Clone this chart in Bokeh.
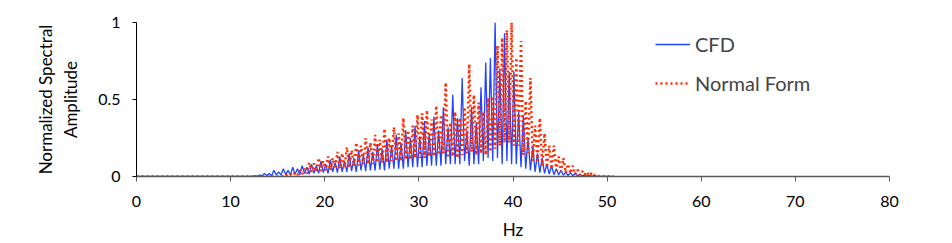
from bokeh.plotting import figure
from bokeh.models import FixedTicker, Legend, LegendItem, Range1d
from bokeh.embed import file_html
from bokeh.resources import INLINE
import numpy as np

# frequency sampling grid (Hz): four bins per Hz from 12.1 Hz
freq_start = 12.1
freq_step = 0.25
span_start = 0.0
span_end = 50.7

# CFD, per Hz from 12 to 49: values at .1, .35, .6, .85 Hz
cfd = [
    0, 0, 0.005, 0,
    0.01, 0.003, 0.02, 0.005,
    0.02, 0.005, 0.04, 0.01,
    0.03, 0.01, 0.05, 0.012,
    0.04, 0.01, 0.06, 0.015,
    0.05, 0.012, 0.07, 0.02,
    0.06, 0.015, 0.08, 0.02,
    0.07, 0.02, 0.10, 0.025,
    0.08, 0.02, 0.11, 0.03,
    0.09, 0.025, 0.13, 0.03,
    0.10, 0.03, 0.15, 0.035,
    0.12, 0.03, 0.17, 0.04,
    0.14, 0.035, 0.19, 0.04,
    0.16, 0.04, 0.21, 0.045,
    0.18, 0.04, 0.24, 0.05,
    0.20, 0.05, 0.27, 0.05,
    0.22, 0.05, 0.30, 0.06,
    0.25, 0.06, 0.33, 0.06,
    0.26, 0.06, 0.36, 0.07,
    0.28, 0.07, 0.39, 0.07,
    0.30, 0.07, 0.45, 0.08,
    0.32, 0.08, 0.53, 0.08,
    0.38, 0.08, 0.64, 0.10,
    0.30, 0.07, 0.45, 0.08,
    0.35, 0.08, 0.58, 0.10,
    0.74, 0.12, 0.77, 0.10,
    1.00, 0.12, 0.70, 0.08,
    0.93, 0.10, 0.68, 0.08,
    0.68, 0.08, 0.42, 0.06,
    0.40, 0.05, 0.25, 0.04,
    0.20, 0.03, 0.15, 0.025,
    0.12, 0.02, 0.08, 0.015,
    0.07, 0.012, 0.05, 0.01,
    0.04, 0.008, 0.03, 0.006,
    0.025, 0.005, 0.02, 0.004,
    0.015, 0.003, 0.01, 0.002,
    0.008, 0.002, 0.005, 0.001,
    0.003, 0.001, 0.002, 0,
]

# Normal Form, per Hz from 12 to 49: values at .1, .35, .6, .85 Hz
normal_form = [
    0, 0, 0, 0,
    0, 0, 0, 0,
    0, 0, 0, 0,
    0, 0.005, 0, 0.01,
    0.003, 0.015, 0.005, 0.025,
    0.01, 0.04, 0.015, 0.05,
    0.02, 0.09, 0.03, 0.085,
    0.03, 0.12, 0.035, 0.10,
    0.04, 0.13, 0.04, 0.12,
    0.05, 0.16, 0.05, 0.15,
    0.06, 0.19, 0.06, 0.17,
    0.07, 0.22, 0.07, 0.20,
    0.08, 0.25, 0.08, 0.22,
    0.08, 0.27, 0.09, 0.24,
    0.09, 0.31, 0.09, 0.25,
    0.10, 0.32, 0.10, 0.28,
    0.10, 0.38, 0.11, 0.30,
    0.11, 0.33, 0.12, 0.40,
    0.12, 0.41, 0.12, 0.43,
    0.13, 0.37, 0.13, 0.46,
    0.14, 0.40, 0.15, 0.61,
    0.12, 0.35, 0.13, 0.42,
    0.12, 0.38, 0.14, 0.45,
    0.15, 0.73, 0.16, 0.53,
    0.14, 0.48, 0.15, 0.42,
    0.14, 0.51, 0.16, 0.52,
    0.18, 0.85, 0.20, 0.90,
    0.22, 0.95, 0.22, 1.00,
    0.20, 0.77, 0.20, 0.88,
    0.14, 0.49, 0.15, 0.64,
    0.10, 0.33, 0.10, 0.38,
    0.07, 0.28, 0.06, 0.20,
    0.05, 0.20, 0.04, 0.13,
    0.03, 0.12, 0.025, 0.08,
    0.02, 0.07, 0.015, 0.045,
    0.01, 0.035, 0.01, 0.03,
    0.005, 0.02, 0.005, 0.015,
    0.002, 0.005, 0, 0,
]

x_ticks = [0, 10, 20, 30, 40, 50, 60, 70, 80]
y_ticks = [0, 0.5, 1]
y_tick_labels = {0: "0", 0.5: "0.5", 1: "1"}

grid = freq_start + freq_step * np.arange(len(cfd))
xs = np.concatenate([[span_start], grid, [span_end]])
cfd_y = np.concatenate([[0.0], cfd, [0.0]])
nf_y = np.concatenate([[0.0], normal_form, [0.0]])

FONT = "Lato"

p = figure(
    output_backend="svg", toolbar_location=None,
    frame_width=753, frame_height=154,
    min_border_left=136, min_border_right=55,
    min_border_top=22, min_border_bottom=66,
    x_range=Range1d(0, 80), y_range=Range1d(0, 1),
    background_fill_color="white", border_fill_color="white",
)
p.outline_line_color = None
p.grid.visible = False

l1 = p.line(xs, cfd_y, line_color="#2243ff", line_width=1.3)
l2 = p.line(xs, nf_y, line_color="#ff2a00", line_width=2.5, line_dash="2 3")

xa = p.xaxis[0]
xa.ticker = FixedTicker(ticks=x_ticks)
xa.axis_label = "Hz"
xa.axis_line_color = "#595959"
xa.axis_line_width = 1.5
xa.major_tick_line_color = "#595959"
xa.major_tick_in = 0
xa.major_tick_out = 5
xa.minor_tick_line_color = None
xa.major_label_standoff = 14
xa.axis_label_standoff = 9

ya = p.yaxis[0]
ya.ticker = FixedTicker(ticks=y_ticks)
ya.major_label_overrides = y_tick_labels
ya.axis_label = "Normalized Spectral\nAmplitude"
ya.axis_line_color = "black"
ya.major_tick_line_color = "black"
ya.major_tick_in = 0
ya.major_tick_out = 4
ya.minor_tick_line_color = None
ya.major_label_standoff = 12
ya.axis_label_standoff = 14

for ax in (xa, ya):
    ax.major_label_text_font = FONT
    ax.major_label_text_font_size = "16px"
    ax.major_label_text_color = "black"
    ax.axis_label_text_font = FONT
    ax.axis_label_text_font_size = "17px"
    ax.axis_label_text_font_style = "normal"
    ax.axis_label_text_color = "black"

legend = Legend(
    items=[LegendItem(label="CFD", renderers=[l1]),
           LegendItem(label="Normal Form", renderers=[l2])],
    location=(519, 81),
    background_fill_alpha=0, border_line_color=None,
    glyph_width=35, glyph_height=20, label_height=20,
    label_standoff=5, spacing=15, padding=0, margin=0,
    label_text_font=FONT, label_text_font_size="20px",
)
p.add_layout(legend)

open("out.html", "w").write(file_html(p, INLINE))
